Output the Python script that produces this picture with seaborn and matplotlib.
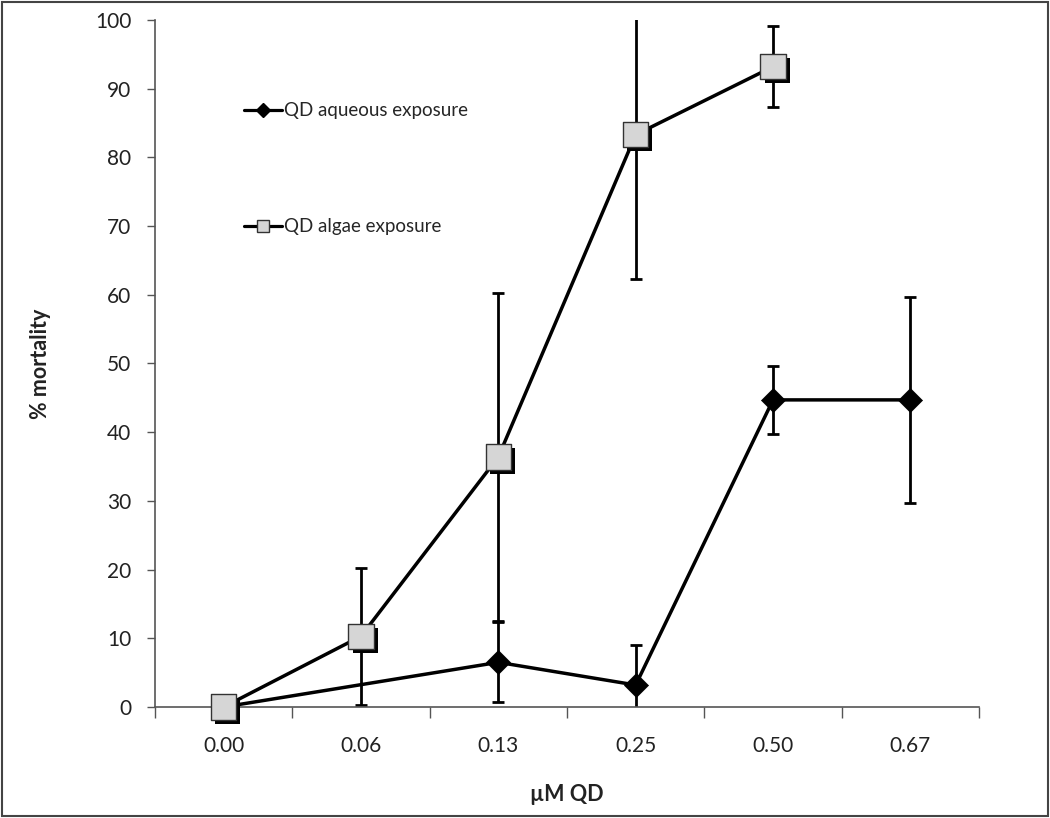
import numpy as np
import pandas as pd
import seaborn as sns
import matplotlib.pyplot as plt
import matplotlib.patheffects as pe
from matplotlib.lines import Line2D
from matplotlib.patches import Rectangle

# categories on the x axis (uM QD)
doses = ["0.00", "0.06", "0.13", "0.25", "0.50", "0.67"]

# % mortality, NaN where the series has no point
aqueous = [0.0, np.nan, 6.5, 3.2, 44.7, 44.7]
aqueous_err = [0.0, np.nan, 5.8, 5.8, 5.0, 15.0]
algae = [0.0, 10.3, 36.4, 83.3, 93.2, np.nan]
algae_err = [0.0, 10.0, 23.9, 21.0, 5.9, np.nan]

sns.set_theme(style="white")
plt.rcParams['font.family'] = ['Lato', 'DejaVu Sans']

# long-form table, one row per point
df = pd.DataFrame({
    "pos": list(range(len(doses))) * 2,
    "dose": doses * 2,
    "mortality": aqueous + algae,
    "err": aqueous_err + algae_err,
    "series": ["QD aqueous exposure"] * len(doses) + ["QD algae exposure"] * len(doses),
}).dropna()

aq = df[df["series"] == "QD aqueous exposure"]
al = df[df["series"] == "QD algae exposure"]

fig = plt.figure(figsize=(10.5, 8.18), dpi=100)
ax = fig.add_axes([0.1476, 0.1357, 0.7848, 0.8399])

# error bars
ax.errorbar(aq["pos"], aq["mortality"], yerr=aq["err"], fmt="none", ecolor="black",
            elinewidth=2.0, capsize=4, capthick=2.0, zorder=2)
ax.errorbar(al["pos"], al["mortality"], yerr=al["err"], fmt="none", ecolor="black",
            elinewidth=2.0, capsize=4, capthick=2.0, zorder=2)

# lines
sns.lineplot(data=aq, x="pos", y="mortality", color="black", linewidth=2.5, ax=ax, zorder=3)
sns.lineplot(data=al, x="pos", y="mortality", color="black", linewidth=2.5, ax=ax, zorder=3)

# markers
sns.scatterplot(data=aq, x="pos", y="mortality", marker="D", s=150, color="black",
                edgecolor="black", linewidth=0.5, ax=ax, zorder=4, clip_on=False)
shadow = [pe.SimplePatchShadow(offset=(3, -3), shadow_rgbFace="black", alpha=1.0), pe.Normal()]
sns.scatterplot(data=al, x="pos", y="mortality", marker="s", s=330, color="#d6d6d6",
                edgecolor="#333333", linewidth=1.0, ax=ax, zorder=5, path_effects=shadow,
                clip_on=False)

ax.set_xlim(-0.5, len(doses) - 0.5)
ax.set_ylim(0, 100)
ax.set_yticks(range(0, 101, 10))

# ticks on category boundaries, labels at centres
ax.set_xticks(np.arange(-0.5, len(doses), 1.0))
ax.set_xticklabels([])
ax.set_xticks(range(len(doses)), minor=True)
ax.set_xticklabels(doses, minor=True)
ax.tick_params(axis="x", which="major", direction="out", length=8, width=1, color="#555555", bottom=True)
ax.tick_params(axis="x", which="minor", length=0, pad=21, labelsize=15, labelcolor="#222222")
ax.tick_params(axis="y", direction="out", length=6, width=1, color="#555555", left=True,
               pad=11, labelsize=15, labelcolor="#222222")

for side in ["top", "right"]:
    ax.spines[side].set_visible(False)
for side in ["left", "bottom"]:
    ax.spines[side].set_color("#555555")
    ax.spines[side].set_linewidth(1.2)

ax.set_xlabel("µM QD", fontsize=15.5, fontweight="bold", labelpad=20, color="#222222")
ax.set_ylabel("% mortality", fontsize=15.5, fontweight="bold", labelpad=32, color="#222222")

# legend
handles = [
    Line2D([], [], color="black", linewidth=2.3, marker="D", markersize=7,
           markerfacecolor="black", markeredgecolor="black"),
    Line2D([], [], color="black", linewidth=2.3, marker="s", markersize=9,
           markerfacecolor="#d6d6d6", markeredgecolor="#333333"),
]
ax.legend(handles, ["QD aqueous exposure", "QD algae exposure"], loc="upper left",
          bbox_to_anchor=(0.088, 0.905), frameon=False, fontsize=13.5, labelspacing=5.3,
          handlelength=2.0, handletextpad=0.1)

# frame around the whole figure
fig.patches.append(Rectangle((0.002, 0.003), 0.996, 0.994, transform=fig.transFigure,
                             fill=False, edgecolor="#444444", linewidth=1.5))

fig.savefig("out.png", dpi=100)
